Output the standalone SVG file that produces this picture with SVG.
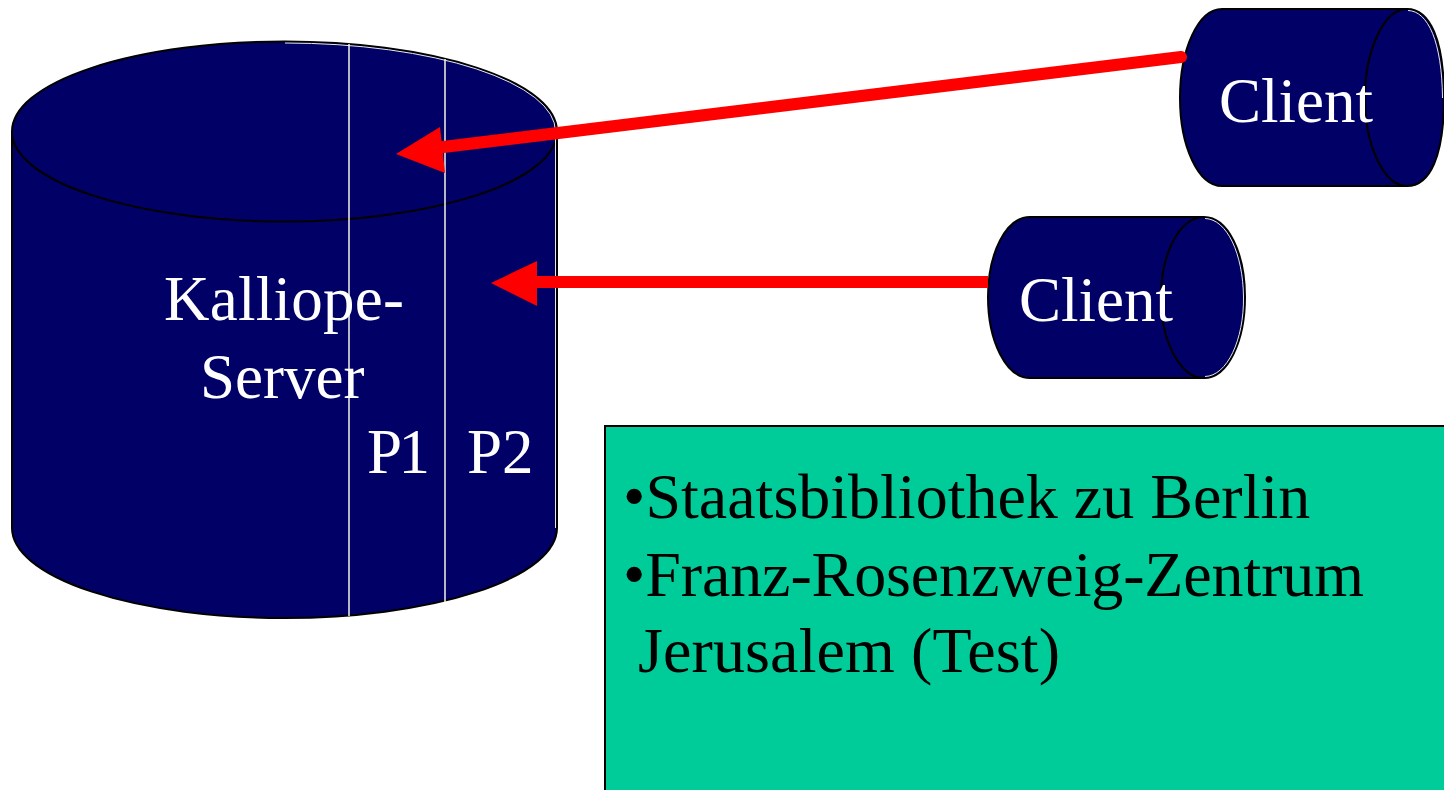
<svg xmlns="http://www.w3.org/2000/svg" width="1444" height="790" viewBox="0 0 1444 790">
<style>
.c{fill:#000066;stroke:#000;stroke-width:2}
.l{fill:none;stroke:#000;stroke-width:2}
.w{font-family:"Liberation Serif",serif;font-size:63px;fill:#fff}
.b{font-family:"Liberation Serif",serif;font-size:64px;fill:#000}
.d{stroke:#f4f4e8;stroke-width:1.500;fill:none}
.h{stroke:#e8e8e8;stroke-width:1;fill:none}
.a{stroke:#ff0000;fill:none}
</style>
<rect width="1444" height="790" fill="#fff"/>
<g id="server">
<path class="c" d="M12 131.500V528A272.500 90 0 0 0 557 528V131.500Z"/>
<ellipse class="c" cx="284.500" cy="131.500" rx="272.500" ry="90"/>
<path class="h" d="M285 43A270.500 88.500 0 0 1 555.500 131.500V528"/>
<path class="d" d="M349 44V616M445 59V602"/>
<text class="w" x="164" y="320" textLength="240">Kalliope-</text>
<text class="w" x="200" y="398">Server</text>
<text class="w" x="367" y="473" textLength="63">P1</text>
<text class="w" x="467" y="473">P2</text>
</g>
<g id="client1">
<path class="c" d="M1222 9H1407C1430 9 1444 40 1444 98S1430 186 1407 186H1222C1198 186 1180 146 1180 98S1198 9 1222 9Z"/>
<path class="l" d="M1407 9C1384 9 1365 50 1365 98S1384 186 1407 186"/>
<path class="h" d="M1408 10.500C1428 11 1442 42 1442.500 98"/>
<text class="w" x="1219" y="122">Client</text>
</g>
<g id="client2">
<path class="c" d="M1030 217H1204C1228 217 1245 253 1245 297S1228 378 1204 378H1030C1006 378 988 341 988 297S1006 217 1030 217Z"/>
<path class="l" d="M1204 217C1180 217 1161 253 1161 297S1180 378 1204 378"/>
<path class="h" d="M1205 218.500C1227 219 1243 254 1243.500 297S1227 376 1205 376.500"/>
<text class="w" x="1019" y="321">Client</text>
</g>
<g id="connectors">
<path class="a" stroke-width="12" stroke-linecap="round" d="M1181 57L435 148"/>
<path fill="#ff0000" d="M396 154L440 127L445 173Z"/>
<path class="a" stroke-width="12" d="M988 282H530"/>
<path fill="#ff0000" d="M491 283L537 261V306Z"/>
</g>
<g id="note">
<rect x="605" y="426" width="845" height="370" fill="#00cc99" stroke="#000" stroke-width="2"/>
<text class="b" x="623" y="518">•Staatsbibliothek zu Berlin</text>
<text class="b" x="623" y="596" textLength="741">•Franz-Rosenzweig-Zentrum</text>
<text class="b" x="638" y="672" textLength="422">Jerusalem (Test)</text>
</g>
</svg>
